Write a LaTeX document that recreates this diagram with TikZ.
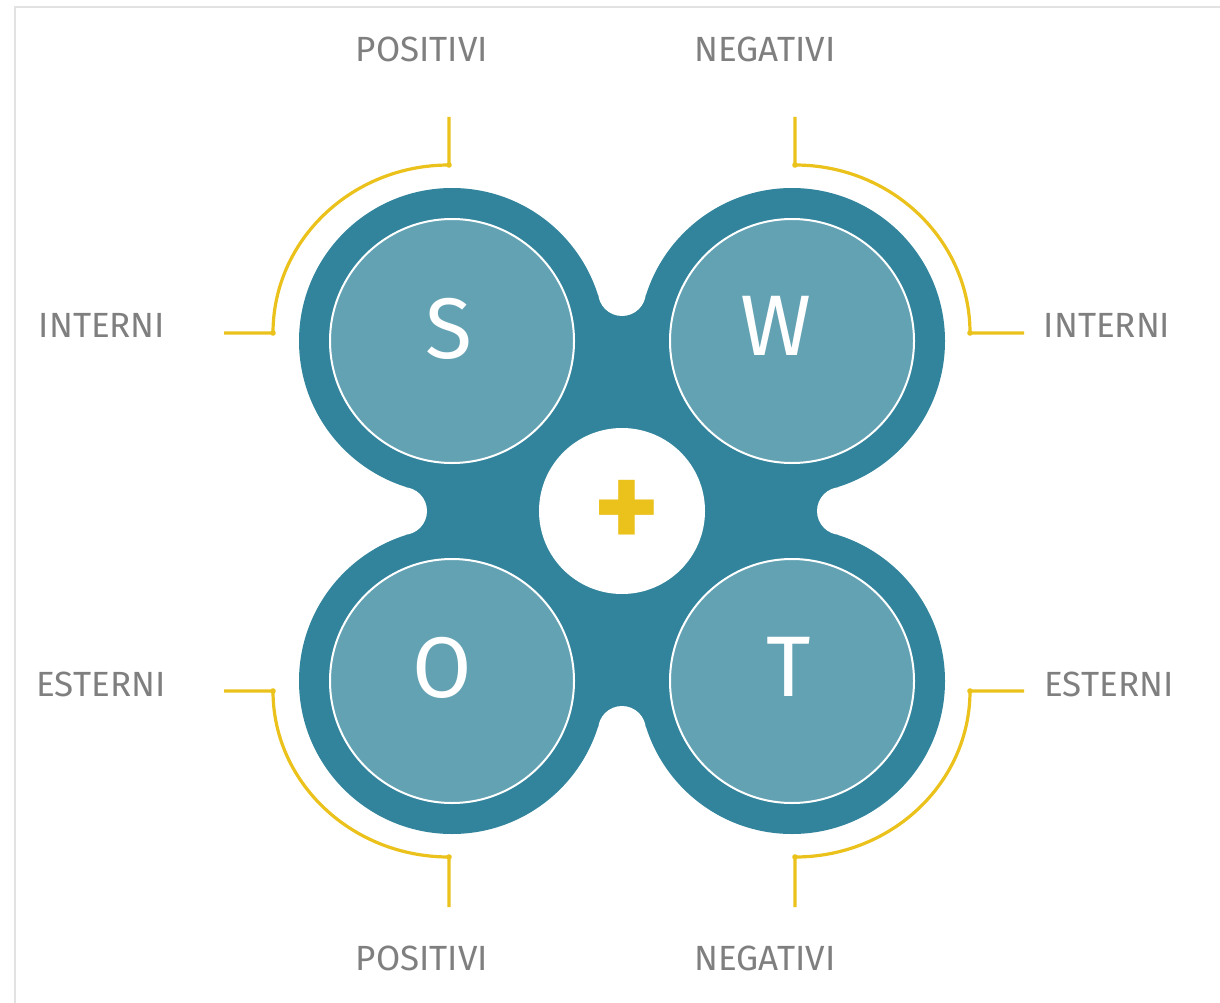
\documentclass[tikz,border=0pt]{standalone}
\usepackage{fontspec}
\setmainfont{Fira Sans}
\definecolor{ringD}{HTML}{31849B}
\definecolor{discF}{HTML}{63A2B3}
\definecolor{goldC}{HTML}{EBC11C}
\definecolor{labC}{HTML}{7F7F7F}
\definecolor{frameC}{HTML}{E2E2E2}
\tikzset{
  ring/.style={circle, fill=ringD, minimum size=306pt, inner sep=0pt},
  disc/.style={circle, fill=discF, draw=white, line width=2pt, minimum size=244pt, inner sep=0pt},
  notch/.style={circle, fill=white, minimum size=47.8pt, inner sep=0pt},
  hub/.style={circle, fill=white, minimum size=166pt, inner sep=0pt},
  letter/.style={text=white, inner sep=0pt, font=\fontsize{86}{86}\selectfont},
  plus/.style={text=goldC, inner sep=0pt, font=\bfseries\fontsize{126}{126}\selectfont},
  brk/.style={draw=goldC, line width=3.2pt},
  dot/.style={fill=goldC},
  lab/.style={text=labC, inner sep=0pt, font=\fontsize{35}{42}\selectfont},
}

\begin{document}
\begin{tikzpicture}[x=1pt, y=-1pt]
\useasboundingbox (0,0) rectangle (1220,1003);
\draw[frameC, line width=2pt] (15,1003) -- (15,7) -- (1220,7);
% the four-leaf body
\node[ring] (rS) at (452,341) {};
\node[ring] (rW) at (792,341) {};
\node[ring] (rO) at (452,681) {};
\node[ring] (rT) at (792,681) {};
\fill[ringD] (406,295) rectangle (838,727);
\node[notch] (nTop) at (622,292.1) {};
\node[notch] (nBot) at (622,729.9) {};
\node[notch] (nLeft) at (403.1,511) {};
\node[notch] (nRight) at (840.9,511) {};
\node[disc] (dS) at (rS) {};
\node[disc] (dW) at (rW) {};
\node[disc] (dO) at (rO) {};
\node[disc] (dT) at (rT) {};
\node[hub] (hub) at (622,511) {};
\node[plus] (plus) at (627,515) {+};
\node[letter] (S) at (449,329) {S};
\node[letter] (W) at (776,326) {W};
\node[letter] (O) at (442,668) {O};
\node[letter] (T) at (789,667) {T};
% brackets
\draw[brk] (449,117) -- (449,165) arc[start angle=-90, end angle=-180, x radius=176, y radius=168] -- (224,333);
\draw[brk] (795,117) -- (795,165) arc[start angle=-90, end angle=0, x radius=175, y radius=168] -- (1024,333);
\draw[brk] (224,691) -- (273,691) arc[start angle=180, end angle=90, x radius=176, y radius=166] -- (449,907);
\draw[brk] (1024,691) -- (970,691) arc[start angle=0, end angle=90, x radius=175, y radius=166] -- (795,907);
\foreach \p in {(449,165),(273,333),(795,165),(970,333),(273,691),(449,857),(970,691),(795,857)}
  \fill[dot] \p circle (2.8);
% labels
\node[lab] (posTop) at (422,49) {POSITIVI};
\node[lab] (negTop) at (765,49) {NEGATIVI};
\node[lab] (intL) at (102,325) {INTERNI};
\node[lab] (intR) at (1107,325) {INTERNI};
\node[lab] (estL) at (101,684) {ESTERNI};
\node[lab] (estR) at (1109,684) {ESTERNI};
\node[lab] (posBot) at (422,958) {POSITIVI};
\node[lab] (negBot) at (765,958) {NEGATIVI};
\end{tikzpicture}
\end{document}
